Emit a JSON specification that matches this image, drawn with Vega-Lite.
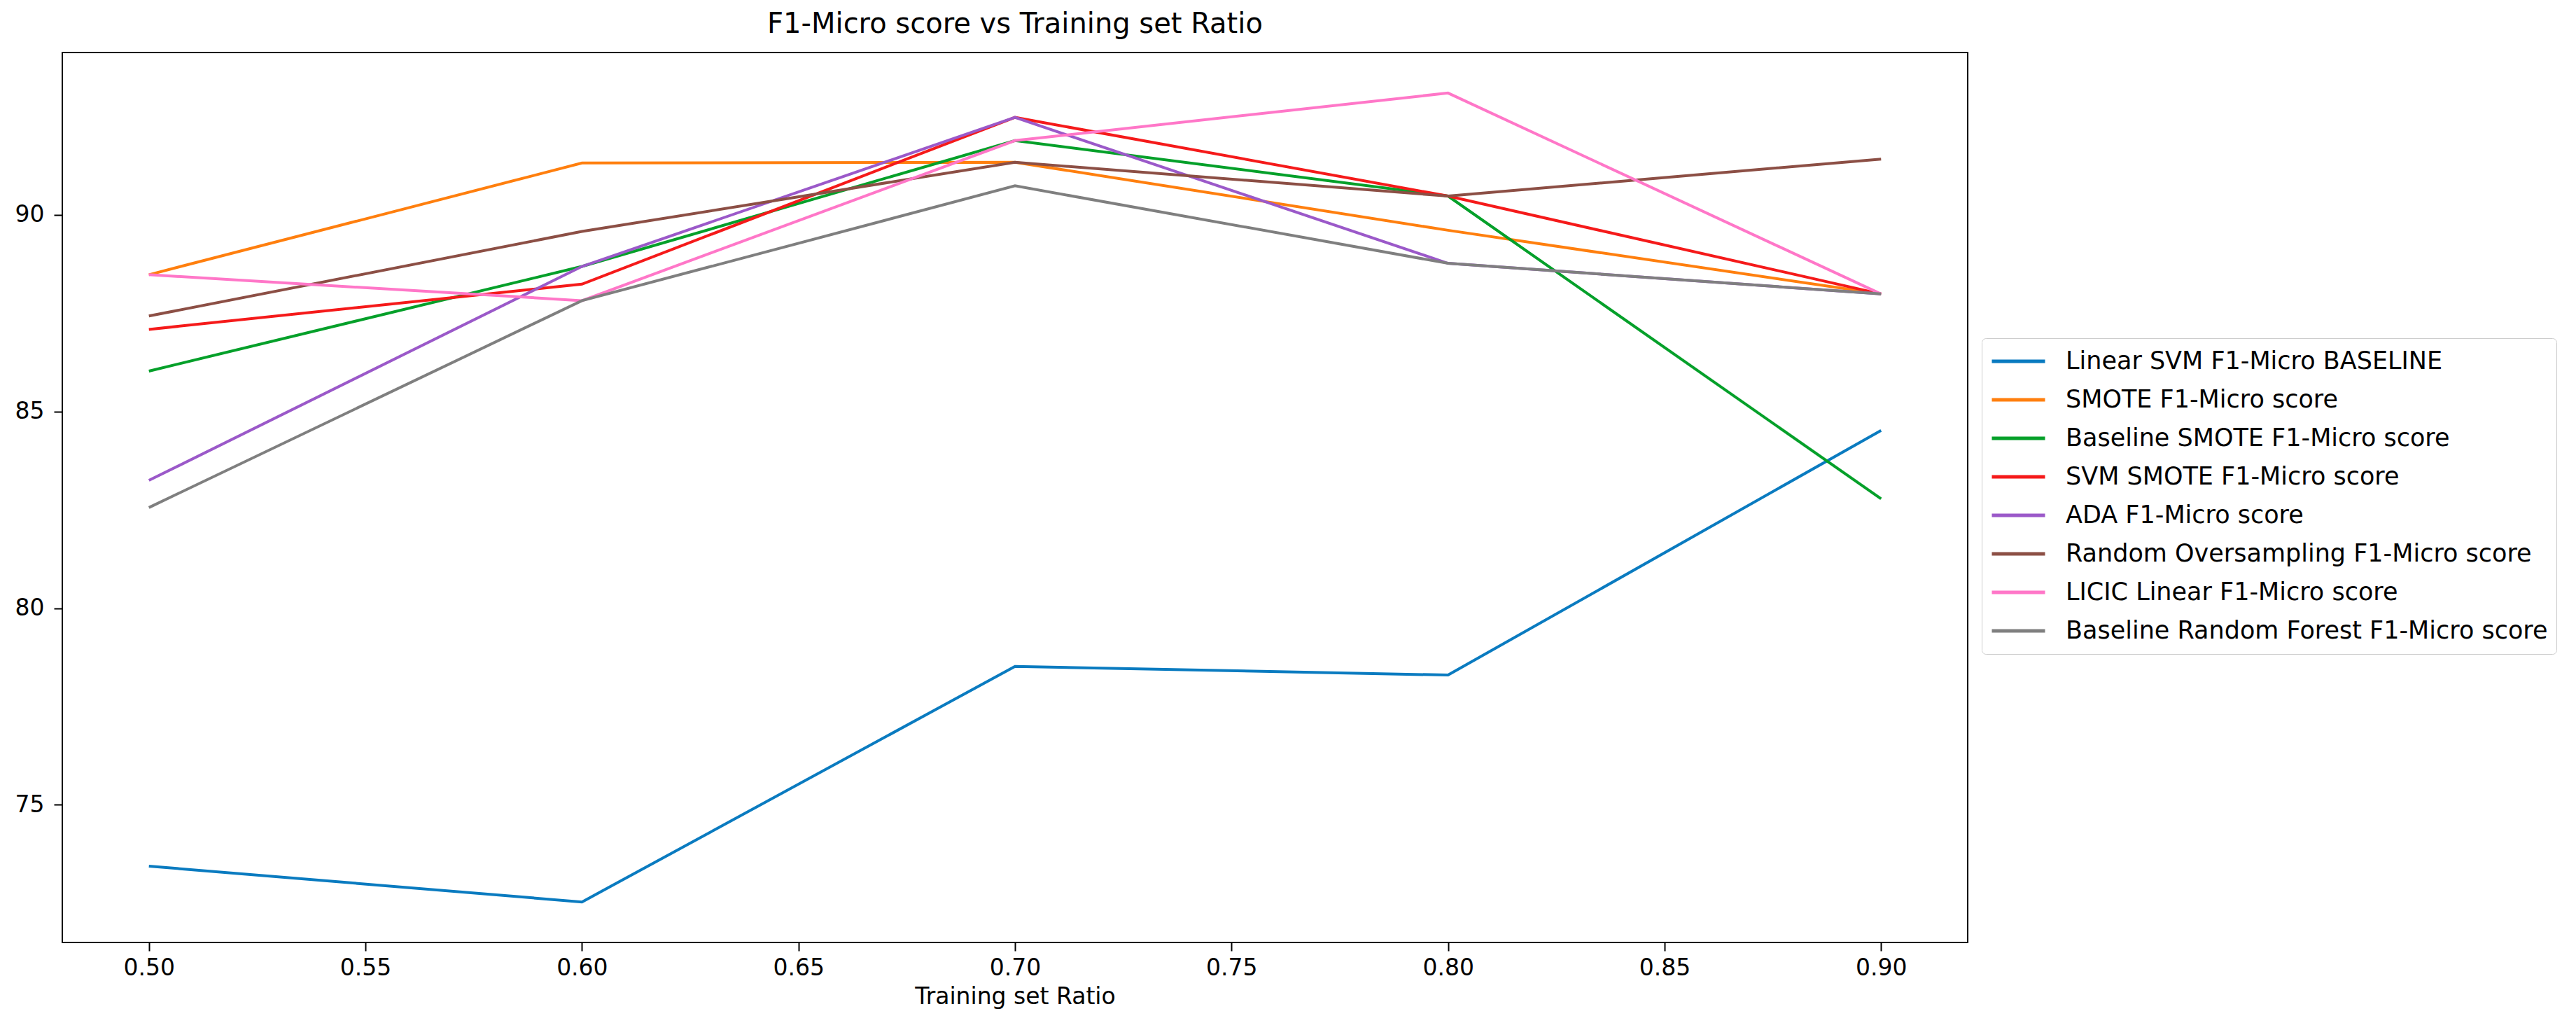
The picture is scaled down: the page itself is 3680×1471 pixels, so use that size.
{
  "$schema": "https://vega.github.io/schema/vega-lite/v6.json",
  "width": 2722,
  "height": 1271,
  "autosize": {"type": "none"},
  "padding": {"left": 89, "top": 75, "right": 869, "bottom": 125},
  "background": "white",
  "title": {
    "text": "F1-Micro score vs Training set Ratio",
    "font": "DejaVu Sans",
    "fontSize": 40,
    "fontWeight": "normal",
    "color": "black",
    "anchor": "middle",
    "offset": 20
  },
  "data": {
    "values": [
      {"ratio": 0.5, "series": "Linear SVM F1-Micro BASELINE", "score": 73.44},
      {"ratio": 0.6, "series": "Linear SVM F1-Micro BASELINE", "score": 72.53},
      {"ratio": 0.7, "series": "Linear SVM F1-Micro BASELINE", "score": 78.52},
      {"ratio": 0.8, "series": "Linear SVM F1-Micro BASELINE", "score": 78.30},
      {"ratio": 0.9, "series": "Linear SVM F1-Micro BASELINE", "score": 84.52},
      {"ratio": 0.5, "series": "SMOTE F1-Micro score", "score": 88.48},
      {"ratio": 0.6, "series": "SMOTE F1-Micro score", "score": 91.32},
      {"ratio": 0.7, "series": "SMOTE F1-Micro score", "score": 91.34},
      {"ratio": 0.8, "series": "SMOTE F1-Micro score", "score": 89.61},
      {"ratio": 0.9, "series": "SMOTE F1-Micro score", "score": 87.99},
      {"ratio": 0.5, "series": "Baseline SMOTE F1-Micro score", "score": 86.03},
      {"ratio": 0.6, "series": "Baseline SMOTE F1-Micro score", "score": 88.69},
      {"ratio": 0.7, "series": "Baseline SMOTE F1-Micro score", "score": 91.89},
      {"ratio": 0.8, "series": "Baseline SMOTE F1-Micro score", "score": 90.48},
      {"ratio": 0.9, "series": "Baseline SMOTE F1-Micro score", "score": 82.78},
      {"ratio": 0.5, "series": "SVM SMOTE F1-Micro score", "score": 87.09},
      {"ratio": 0.6, "series": "SVM SMOTE F1-Micro score", "score": 88.24},
      {"ratio": 0.7, "series": "SVM SMOTE F1-Micro score", "score": 92.48},
      {"ratio": 0.8, "series": "SVM SMOTE F1-Micro score", "score": 90.48},
      {"ratio": 0.9, "series": "SVM SMOTE F1-Micro score", "score": 87.99},
      {"ratio": 0.5, "series": "ADA F1-Micro score", "score": 83.25},
      {"ratio": 0.6, "series": "ADA F1-Micro score", "score": 88.69},
      {"ratio": 0.7, "series": "ADA F1-Micro score", "score": 92.48},
      {"ratio": 0.8, "series": "ADA F1-Micro score", "score": 88.77},
      {"ratio": 0.9, "series": "ADA F1-Micro score", "score": 87.99},
      {"ratio": 0.5, "series": "Random Oversampling F1-Micro score", "score": 87.43},
      {"ratio": 0.6, "series": "Random Oversampling F1-Micro score", "score": 89.58},
      {"ratio": 0.7, "series": "Random Oversampling F1-Micro score", "score": 91.34},
      {"ratio": 0.8, "series": "Random Oversampling F1-Micro score", "score": 90.48},
      {"ratio": 0.9, "series": "Random Oversampling F1-Micro score", "score": 91.42},
      {"ratio": 0.5, "series": "LICIC Linear F1-Micro score", "score": 88.48},
      {"ratio": 0.6, "series": "LICIC Linear F1-Micro score", "score": 87.82},
      {"ratio": 0.7, "series": "LICIC Linear F1-Micro score", "score": 91.89},
      {"ratio": 0.8, "series": "LICIC Linear F1-Micro score", "score": 93.10},
      {"ratio": 0.9, "series": "LICIC Linear F1-Micro score", "score": 87.99},
      {"ratio": 0.5, "series": "Baseline Random Forest F1-Micro score", "score": 82.56},
      {"ratio": 0.6, "series": "Baseline Random Forest F1-Micro score", "score": 87.82},
      {"ratio": 0.7, "series": "Baseline Random Forest F1-Micro score", "score": 90.74},
      {"ratio": 0.8, "series": "Baseline Random Forest F1-Micro score", "score": 88.77},
      {"ratio": 0.9, "series": "Baseline Random Forest F1-Micro score", "score": 87.99}
    ]
  },
  "mark": {"type": "line", "strokeWidth": 4, "clip": true},
  "encoding": {
    "x": {
      "field": "ratio",
      "type": "quantitative",
      "scale": {"domain": [0.48, 0.92], "nice": false, "zero": false},
      "axis": {
        "title": "Training set Ratio",
        "values": [0.5, 0.55, 0.6, 0.65, 0.7, 0.75, 0.8, 0.85, 0.9],
        "format": ".2f",
        "labelPadding": 8,
        "titlePadding": 8
      }
    },
    "y": {
      "field": "score",
      "type": "quantitative",
      "scale": {"domain": [71.5, 94.13], "nice": false, "zero": false},
      "axis": {
        "title": null,
        "values": [75, 80, 85, 90],
        "format": "d",
        "labelPadding": 14
      }
    },
    "color": {
      "field": "series",
      "type": "nominal",
      "scale": {
        "domain": [
          "Linear SVM F1-Micro BASELINE",
          "SMOTE F1-Micro score",
          "Baseline SMOTE F1-Micro score",
          "SVM SMOTE F1-Micro score",
          "ADA F1-Micro score",
          "Random Oversampling F1-Micro score",
          "LICIC Linear F1-Micro score",
          "Baseline Random Forest F1-Micro score"
        ],
        "range": ["#0a7bc0", "#ff7f0e", "#05a02a", "#f51a1a", "#9b59c9", "#8c4f45", "#ff77c8", "#7f7f7f"]
      },
      "legend": {
        "title": null,
        "orient": "none",
        "legendX": 2742,
        "legendY": 408,
        "symbolType": "stroke",
        "symbolSize": 5776,
        "symbolStrokeWidth": 5,
        "clipHeight": 42,
        "rowPadding": 13,
        "labelOffset": 27,
        "labelFontSize": 35,
        "labelFont": "DejaVu Sans",
        "labelColor": "black",
        "labelLimit": 0,
        "padding": 12,
        "strokeColor": "#cccccc",
        "fillColor": "white",
        "cornerRadius": 6
      }
    }
  },
  "config": {
    "view": {"stroke": "black", "strokeWidth": 2},
    "axis": {
      "domain": false,
      "grid": false,
      "ticks": true,
      "tickSize": 12,
      "tickWidth": 2,
      "tickColor": "black",
      "labelFont": "DejaVu Sans",
      "labelFontSize": 33,
      "labelColor": "black",
      "titleFont": "DejaVu Sans",
      "titleFontSize": 33,
      "titleFontWeight": "normal",
      "titleColor": "black"
    }
  }
}
